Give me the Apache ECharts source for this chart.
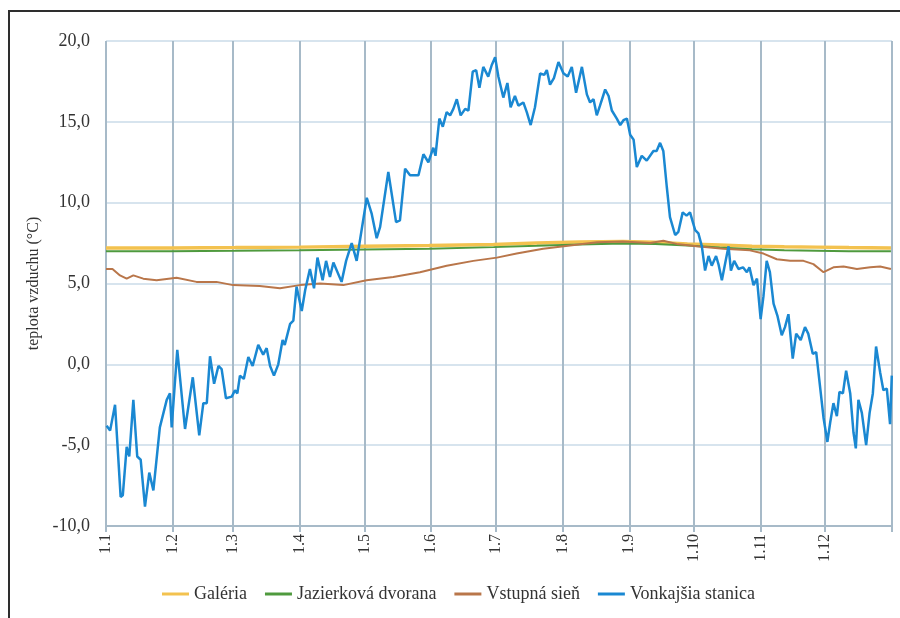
<!DOCTYPE html>
<html>
<head>
<meta charset="utf-8">
<title>Teplota vzduchu</title>
<script src="https://cdn.jsdelivr.net/npm/echarts@6/dist/echarts.min.js"></script>
<style>
  html, body { margin: 0; padding: 0; background: #ffffff; }
  #chart { width: 900px; height: 618px; }
</style>
</head>
<body>
<div id="chart"></div>
<script>
// Month boundaries (day of year, 0 = 1 January) and their labels
const monthStartDays = [0, 31, 59, 90, 120, 151, 181, 212, 243, 273, 304, 334];
const monthLabels = ['1.1', '1.2', '1.3', '1.4', '1.5', '1.6', '1.7', '1.8', '1.9', '1.10', '1.11', '1.12'];
const yearEndDay = 365;

const seriesNames = ['Galéria', 'Jazierková dvorana', 'Vstupná sieň', 'Vonkajšia stanica'];

// Galéria: [day, °C]
const galeria = [
  [0, 7.2], [30, 7.2], [60, 7.22], [90, 7.25], [120, 7.3], [150, 7.35], [180, 7.42],
  [200, 7.5], [220, 7.56], [240, 7.6], [255, 7.55], [270, 7.45], [285, 7.38],
  [300, 7.3], [315, 7.27], [330, 7.25], [345, 7.22], [364.5, 7.2]
];

// Jazierková dvorana: [day, °C]
const jazierkova = [
  [0, 7.0], [30, 7.0], [60, 7.02], [90, 7.05], [120, 7.1], [150, 7.15], [180, 7.25],
  [200, 7.33], [220, 7.42], [240, 7.48], [255, 7.45], [270, 7.35], [285, 7.22],
  [300, 7.12], [315, 7.06], [330, 7.03], [345, 7.0], [364.5, 7.0]
];

// Vstupná sieň: [day, °C]
const vstupna = [
  [0, 5.9], [3, 5.9], [6.5, 5.5], [9.6, 5.3], [12.7, 5.5], [17.3, 5.3], [23.5, 5.2],
  [32.8, 5.35], [42, 5.1], [51.3, 5.1], [59, 4.9], [71.4, 4.85], [80.8, 4.7],
  [90, 4.9], [99.4, 5.0], [110.2, 4.9], [121, 5.2], [133.4, 5.4], [145.8, 5.7],
  [158.2, 6.1], [170.6, 6.4], [181.5, 6.6], [190.7, 6.85], [203, 7.15], [215.5, 7.35],
  [228, 7.55], [240, 7.6], [252.7, 7.5], [258.8, 7.65], [265, 7.45], [274.3, 7.3],
  [286.7, 7.15], [299, 7.05], [305.3, 6.85], [311.5, 6.5], [317.7, 6.4], [323.9, 6.4],
  [328.5, 6.2], [333.2, 5.7], [337.8, 6.0], [342.5, 6.05], [348.7, 5.9], [354.9, 6.0],
  [359.5, 6.05], [364.5, 5.9]
];

// Vonkajšia stanica: [day, °C]
const vonkajsia = [
  [0.3, -3.8], [1.9, -4.1], [4.2, -2.5], [6.8, -8.2], [7.8, -8.1], [9.6, -5.1], [10.8, -5.7],
  [12.7, -2.2], [14.5, -5.7], [16.1, -5.9], [18.1, -8.8], [20.1, -6.7], [22, -7.8],
  [25, -3.9], [28.2, -2.2], [29.7, -1.8], [30.5, -3.9], [33.1, 0.9], [36.7, -4.0],
  [40.3, -0.8], [43.3, -4.4], [45.2, -2.4], [46.8, -2.4], [48.3, 0.5], [50.2, -1.2],
  [52.2, -0.1], [53.7, -0.3], [55.7, -2.1], [58.4, -2.0], [59.9, -1.6], [61, -1.8],
  [62.2, -0.7], [64, -0.9], [66.1, 0.45], [68.1, -0.1], [70.7, 1.2], [73, 0.6],
  [74.6, 1.0], [76.2, -0.1], [78, -0.7], [80, 0.0], [82, 1.5], [83, 1.2], [85.5, 2.5],
  [87, 2.7], [88.5, 4.8], [90.9, 3.3], [92.5, 4.6], [94.7, 5.9], [96.6, 4.7],
  [98.2, 6.6], [100.6, 5.2], [102.2, 6.4], [104, 5.4], [105.6, 6.3], [109.4, 5.1],
  [111.5, 6.4], [114.1, 7.5], [116.4, 6.4], [121.1, 10.3], [123.4, 9.3], [125.7, 7.8],
  [127.3, 8.5], [131.1, 11.9], [134.7, 8.8], [136.5, 8.9], [138.9, 12.1], [141.2, 11.7],
  [145.1, 11.7], [147.4, 13.0], [149.7, 12.5], [152, 13.4], [153, 12.9], [154.8, 15.2],
  [156.4, 14.7], [158.2, 15.6], [159.8, 15.4], [161.3, 15.8], [162.9, 16.4], [164.7, 15.4],
  [166.8, 15.8], [168.3, 15.7], [170.3, 18.1], [171.9, 18.2], [173.4, 17.1], [175.2, 18.4],
  [177.5, 17.8], [179.1, 18.5], [180.7, 19.0], [182.2, 17.8], [184.5, 16.5], [186.4, 17.4],
  [187.9, 15.9], [189.9, 16.6], [191.5, 16.0], [193.8, 16.2], [195.4, 15.6], [197.2, 14.8],
  [199.2, 15.9], [201.6, 18.0], [203.5, 17.9], [204.7, 18.2], [206.2, 17.3], [208, 17.7],
  [210.1, 18.7], [212.4, 18.0], [214.4, 17.8], [216.3, 18.4], [218.3, 16.8], [221, 18.4],
  [223.3, 16.7], [224.8, 16.2], [226.4, 16.4], [227.9, 15.4], [229.4, 16.0], [231.8, 17.0],
  [233.4, 16.6], [234.9, 15.7], [237.2, 15.2], [238.8, 14.8], [240.3, 15.1], [241.9, 15.2],
  [243.4, 14.2], [245, 13.9], [246.5, 12.2], [248.8, 12.9], [251.1, 12.6], [254.2, 13.2],
  [255.7, 13.2], [257.3, 13.7], [258.8, 13.2], [260.4, 11.0], [261.9, 9.1], [264.3, 8.0],
  [265.8, 8.2], [267.8, 9.4], [269.6, 9.2], [271.2, 9.4], [273.6, 8.3], [275.1, 8.1],
  [276.7, 7.3], [278.2, 5.8], [279.8, 6.7], [281.3, 6.1], [283.3, 6.7], [284.4, 6.2],
  [286, 5.2], [287.6, 6.3], [289.1, 7.3], [290.2, 5.8], [291.7, 6.4], [293.7, 5.9],
  [295.8, 6.0], [297.6, 5.7], [298.8, 6.0], [300.7, 4.9], [302.3, 5.3], [304, 2.8],
  [305.3, 4.2], [306.8, 6.4], [308.3, 5.7], [310, 3.75], [311.8, 3.0], [313.8, 1.8],
  [315.3, 2.3], [316.9, 3.1], [318.9, 0.35], [320.5, 1.9], [322.6, 1.5], [324.6, 2.3],
  [326.1, 1.9], [328.2, 0.65], [329.8, 0.75], [331.6, -1.4], [333.2, -3.3], [335, -4.8],
  [336.3, -3.6], [337.8, -2.4], [339.4, -3.2], [340.6, -1.7], [342.2, -1.8], [343.7, -0.4],
  [345.6, -1.8], [347.1, -4.2], [348.2, -5.2], [349.4, -2.2], [351, -3.0], [353, -5.0],
  [354.6, -3.0], [356.1, -1.8], [357.6, 1.1], [359.5, -0.5], [361, -1.6], [362.6, -1.5],
  [364.1, -3.7], [364.9, -0.7]
];

const colors = ['#f3c24f', '#4f9a3e', '#b9764a', '#1a88d2'];
const serif = '"Liberation Serif", "DejaVu Serif", serif';
const gridTickValues = monthStartDays.concat([yearEndDay]);

const chart = echarts.init(document.getElementById('chart'), null, { renderer: 'canvas' });

function lineSeries(name, data, color, width, z) {
  return {
    name: name,
    type: 'line',
    data: data,
    showSymbol: false,
    symbol: 'none',
    smooth: false,
    z: z,
    lineStyle: { color: color, width: width },
    itemStyle: { color: color },
    emphasis: { disabled: true }
  };
}

chart.setOption({
  animation: false,
  backgroundColor: '#ffffff',
  graphic: [{
    type: 'rect',
    shape: { x: 9, y: 11, width: 920, height: 640 },
    style: { fill: 'none', stroke: '#2e2e2e', lineWidth: 2 },
    silent: true
  }],
  grid: { left: 106, right: 8, top: 41, bottom: 92, containLabel: false },
  legend: {
    left: 157,
    top: 580,
    itemGap: 18,
    itemWidth: 27,
    itemHeight: 3,
    icon: 'rect',
    textStyle: { fontFamily: serif, fontSize: 18, color: '#333333' },
    data: seriesNames
  },
  xAxis: {
    type: 'value',
    min: 0,
    max: yearEndDay,
    axisLine: { show: true, onZero: false, lineStyle: { color: '#a7bac8', width: 2 } },
    axisTick: { show: true, length: 6, customValues: gridTickValues, lineStyle: { color: '#a7bac8', width: 2 } },
    splitLine: { show: true, lineStyle: { color: '#a7bac8', width: 2 } },
    axisLabel: {
      customValues: monthStartDays,
      rotate: 90,
      margin: 8,
      fontFamily: serif,
      fontSize: 16,
      color: '#333333',
      formatter: function (v) {
        const i = monthStartDays.indexOf(v);
        return i >= 0 ? monthLabels[i] : '';
      }
    }
  },
  yAxis: {
    type: 'value',
    min: -10,
    max: 20,
    interval: 5,
    name: 'teplota vzduchu (°C)',
    nameLocation: 'middle',
    nameGap: 64,
    nameRotate: 90,
    nameTextStyle: { fontFamily: serif, fontSize: 16, color: '#333333' },
    axisLine: { show: false },
    axisTick: { show: false },
    splitLine: { show: true, lineStyle: { color: '#d7e4ee', width: 2 } },
    axisLabel: {
      margin: 16,
      fontFamily: serif,
      fontSize: 18,
      color: '#333333',
      formatter: function (v) { return v.toFixed(1).replace('.', ','); }
    }
  },
  series: [
    lineSeries(seriesNames[0], galeria, colors[0], 3.5, 2),
    lineSeries(seriesNames[1], jazierkova, colors[1], 2, 3),
    lineSeries(seriesNames[2], vstupna, colors[2], 2, 4),
    lineSeries(seriesNames[3], vonkajsia, colors[3], 2.5, 5)
  ]
});
</script>
</body>
</html>
